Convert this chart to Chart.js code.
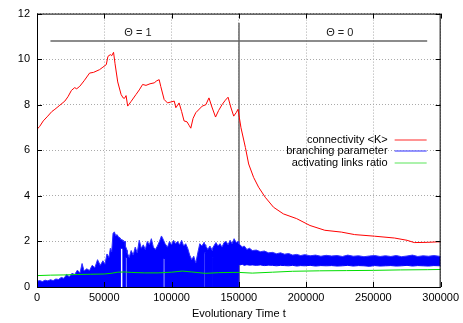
<!DOCTYPE html>
<html>
<head>
<meta charset="utf-8">
<script src="https://cdn.jsdelivr.net/npm/chart.js@4.4.0/dist/chart.umd.min.js"></script>
<style>
  html, body { margin: 0; padding: 0; background: #fff; }
</style>
</head>
<body>
<canvas id="evoChart" width="463" height="323"></canvas>
<script>
// connectivity <K>
const redT = [0, 2000, 4650, 8000, 11000, 13300, 17000, 20700, 23000, 25600, 28000, 29500, 31800, 35000, 39100, 42000, 46500, 49000, 51500, 52700,
  54500, 55500, 56900, 58000, 60000, 62500, 64000, 65000, 66200, 67400, 70000, 73600, 76000, 78500, 81000, 84000, 87100, 89000, 90800, 92000,
  94500, 97000, 99500, 102000, 103200, 105600, 107500, 109300, 111500, 113000, 114300, 116000, 118000, 122800, 125500, 127800, 130000, 132700, 135000, 137600,
  140000, 142000, 144000, 146200, 148000, 149400, 151600, 154900, 157300, 161000, 164700, 169600, 175800, 183100, 193000, 202900, 213900, 226200, 236100, 250900,
  265700, 275000, 280400, 290000, 297700, 300000];
const redV = [6.92, 7.05, 7.29, 7.5, 7.7, 7.8, 7.98, 8.16, 8.35, 8.63, 8.75, 8.7, 8.81, 9.05, 9.39, 9.42, 9.54, 9.65, 9.76, 10.12,
  10.2, 10.15, 10.3, 9.8, 9.0, 8.45, 8.3, 8.28, 8.4, 7.94, 8.15, 8.45, 8.65, 8.89, 8.85, 8.92, 8.96, 9.05, 9.1, 8.8,
  8.23, 8.08, 8.12, 8.16, 7.87, 8.08, 7.7, 7.29, 7.25, 7.1, 6.97, 7.4, 7.65, 7.94, 8.0, 8.3, 7.9, 7.46, 7.75, 8.01,
  8.2, 8.33, 7.9, 7.5, 7.65, 7.8, 6.99, 6.12, 5.4, 4.81, 4.38, 3.94, 3.5, 3.21, 3.0, 2.7, 2.49, 2.41, 2.3, 2.23,
  2.15, 2.05, 1.95, 1.96, 1.98, 1.98];

// branching parameter: noisy band, kept as upper and lower envelope
const blueT = [0, 2000, 4000, 6000, 8000, 10000, 12000, 14000, 16000, 18000,
  20000, 22000, 24000, 26000, 28000, 30000, 32000, 33500, 35000, 37000,
  39000, 41000, 43000, 45000, 47000, 49000, 50500, 52000, 53500, 54500,
  55500, 56500, 57500, 58500, 59500, 60500, 61900, 62000, 64000, 64100,
  65600, 65700, 67000, 67100, 68500, 70000, 71500, 73000, 74500, 76000,
  77500, 79000, 80500, 82000, 83500, 85000, 86500, 88000, 89500, 91000,
  92500, 93700, 93800, 95200, 95300, 97000, 98500, 100000, 101500, 103000,
  104500, 106000, 107500, 109000, 110500, 112000, 113500, 115000, 116500, 118000,
  119500, 121000, 122500, 124200, 124300, 125300, 125400, 127000, 128500, 130300,
  130400, 130900, 131000, 133000, 134500, 136000, 137500, 139000, 140500, 142000,
  143500, 145000, 146500, 148000, 149500, 149900, 150100, 151000, 152500, 154000,
  156000, 158000, 160000, 163000, 166000, 169000, 172000, 175000, 178000, 181000,
  184000, 187000, 190000, 193000, 196000, 199000, 203000, 207000, 211000, 215000,
  219000, 223000, 227000, 231000, 235000, 239000, 243000, 247000, 251000, 255000,
  259000, 263000, 267000, 271000, 275000, 279000, 283000, 287000, 291000, 295000, 300000];
const blueHi = [0.25, 0.28, 0.24, 0.30, 0.27, 0.32, 0.28, 0.35, 0.33, 0.42,
  0.38, 0.55, 0.45, 0.60, 0.55, 0.74, 0.62, 1.03, 0.70, 0.80,
  0.72, 0.95, 0.85, 1.2, 0.95, 1.15, 1.0, 1.45, 1.3, 1.7,
  1.55, 2.35, 2.42, 2.25, 2.3, 2.2, 2.15, 2.1, 2.05, 2.0,
  2.0, 1.8, 1.6, 1.5, 1.3, 1.6, 1.4, 1.75, 1.5, 2.05,
  1.7, 1.85, 1.65, 2.0, 1.85, 2.12, 1.75, 1.65, 1.8, 2.0,
  2.24, 2.1, 2.1, 1.9, 1.9, 1.75, 2.0, 1.85, 2.05, 1.9,
  2.0, 1.85, 2.05, 1.8, 1.9, 1.7, 1.4, 1.2, 1.35, 1.05,
  1.5, 1.9, 1.8, 1.95, 1.9, 1.85, 1.8, 1.65, 1.8, 1.6,
  1.7, 1.75, 1.75, 1.95, 1.8, 1.9, 1.75, 1.95, 2.0, 1.85,
  2.05, 1.9, 2.12, 1.95, 2.0, 1.9, 1.9, 1.85, 1.75, 1.8,
  1.65, 1.7, 1.6, 1.62, 1.55, 1.58, 1.5, 1.52, 1.46, 1.5,
  1.44, 1.47, 1.4, 1.43, 1.38, 1.42, 1.37, 1.4, 1.35, 1.39,
  1.36, 1.38, 1.34, 1.4, 1.35, 1.37, 1.33, 1.36, 1.38, 1.34,
  1.37, 1.34, 1.38, 1.33, 1.36, 1.4, 1.34, 1.37, 1.35, 1.38, 1.34];
const blueLo = [0, 0, 0, 0, 0, 0, 0, 0, 0, 0,
  0, 0, 0, 0, 0, 0, 0, 0, 0, 0,
  0, 0, 0, 0, 0, 0, 0, 0, 0, 0,
  0, 0, 0, 0, 0, 0, 0, 1.7, 1.7, 0,
  0, 1.3, 1.3, 0, 0, 0, 0, 0, 0, 0,
  0, 0, 0, 0, 0, 0, 0, 0, 0, 0,
  0, 0, 1.25, 1.25, 0, 0, 0, 0, 0, 0,
  0, 0, 0, 0, 0, 0, 0, 0, 0, 0,
  0, 0, 0, 0, 1.5, 1.5, 0, 0, 0, 0,
  1.3, 1.3, 0, 0, 0, 0, 0, 0, 0, 0,
  0, 0, 0, 0, 0, 0, 1.0, 0.97, 1.0, 0.95,
  0.98, 0.96, 0.97, 0.95, 0.97, 0.94, 0.96, 0.95, 0.93, 0.95,
  0.94, 0.93, 0.95, 0.92, 0.94, 0.93, 0.95, 0.92, 0.94, 0.93,
  0.94, 0.92, 0.93, 0.95, 0.92, 0.94, 0.93, 0.91, 0.94, 0.92,
  0.93, 0.94, 0.92, 0.93, 0.95, 0.92, 0.94, 0.93, 0.92, 0.94, 0.93];

// activating links ratio
const greenT = [0, 10000, 20000, 30000, 40000, 50000, 55000, 60000, 65000, 70000, 80000, 90000, 100000, 108000,
  115000, 125000, 135000, 145000, 150000, 160000, 175000, 190000, 210000, 230000, 250000, 270000, 290000, 300000];
const greenV = [0.50, 0.52, 0.53, 0.55, 0.56, 0.57, 0.60, 0.65, 0.66, 0.64, 0.62, 0.62, 0.65, 0.70,
  0.66, 0.60, 0.63, 0.64, 0.64, 0.61, 0.65, 0.69, 0.71, 0.72, 0.73, 0.75, 0.76, 0.77];

const xTicks = [0, 50000, 100000, 150000, 200000, 250000, 300000];
const yTicks = [0, 2, 4, 6, 8, 10, 12];

const legendNames = ['connectivity <K>', 'branching parameter', 'activating links ratio'];
const legendColors = ['#ff7070', '#7070ff', '#90ee90'];

// phase annotation
const switchT = 150000;
const switchTop = 11.6;
const phaseBarX = [10000, 290000];
const phaseBarY = 10.8;
const thetaLabels = ['Θ = 1', 'Θ = 0'];
const thetaX = [75000, 225000];
const thetaY = 11.17;

const FONT = '"Liberation Sans", Arial, sans-serif';

function pts(xs, ys) {
  return xs.map((v, i) => ({ x: v, y: ys[i] }));
}

const gnuplotLook = {
  id: 'gnuplotLook',
  beforeDatasetsDraw(chart) {
    const ctx = chart.ctx, sx = chart.scales.x, sy = chart.scales.y;
    ctx.save();
    ctx.strokeStyle = '#666';
    ctx.lineWidth = 1.5;
    const vx = Math.round(sx.getPixelForValue(switchT));
    ctx.beginPath();
    ctx.moveTo(vx, sy.getPixelForValue(0));
    ctx.lineTo(vx, sy.getPixelForValue(switchTop));
    ctx.stroke();
    const by = Math.round(sy.getPixelForValue(phaseBarY));
    ctx.beginPath();
    ctx.moveTo(sx.getPixelForValue(phaseBarX[0]), by);
    ctx.lineTo(sx.getPixelForValue(phaseBarX[1]), by);
    ctx.stroke();
    ctx.fillStyle = '#222';
    ctx.font = '11px ' + FONT;
    ctx.textAlign = 'center';
    ctx.textBaseline = 'middle';
    thetaLabels.forEach((t, i) => {
      ctx.fillText(t, sx.getPixelForValue(thetaX[i]), sy.getPixelForValue(thetaY));
    });
    ctx.restore();
  },
  afterDraw(chart) {
    const ctx = chart.ctx, a = chart.chartArea, sx = chart.scales.x, sy = chart.scales.y;
    ctx.save();
    // frame
    ctx.strokeStyle = '#000';
    ctx.lineWidth = 1;
    ctx.strokeRect(a.left + 0.5, a.top + 0.5, a.right - a.left - 1, a.bottom - a.top);
    // inward ticks on all four sides
    const tl = 5;
    ctx.beginPath();
    xTicks.forEach(v => {
      const px = Math.round(sx.getPixelForValue(v)) + 0.5;
      ctx.moveTo(px, a.bottom); ctx.lineTo(px, a.bottom - tl);
      ctx.moveTo(px, a.top); ctx.lineTo(px, a.top + tl);
    });
    yTicks.forEach(v => {
      const py = Math.round(sy.getPixelForValue(v)) + 0.5;
      ctx.moveTo(a.left, py); ctx.lineTo(a.left + tl, py);
      ctx.moveTo(a.right, py); ctx.lineTo(a.right - tl, py);
    });
    ctx.stroke();
    // key
    ctx.font = '11px ' + FONT;
    ctx.textAlign = 'right';
    ctx.textBaseline = 'middle';
    legendNames.forEach((name, i) => {
      const ly = a.top + 126.5 + i * 11.2;
      ctx.fillStyle = '#000';
      ctx.fillText(name, a.right - 53, ly);
      ctx.strokeStyle = legendColors[i];
      ctx.lineWidth = 1.5;
      ctx.beginPath();
      ctx.moveTo(a.right - 46, Math.round(ly));
      ctx.lineTo(a.right - 14, Math.round(ly));
      ctx.stroke();
    });
    ctx.restore();
  }
};

const ctx = document.getElementById('evoChart').getContext('2d');
new Chart(ctx, {
  type: 'line',
  data: {
    datasets: [
      {
        label: 'activating links ratio',
        data: pts(greenT, greenV),
        borderColor: '#00dd00',
        borderWidth: 1,
        pointRadius: 0,
        fill: false
      },
      {
        label: 'branching parameter',
        data: pts(blueT, blueHi),
        borderColor: '#3030ff',
        backgroundColor: '#0000ff',
        borderWidth: 1,
        pointRadius: 0,
        fill: '+1'
      },
      {
        label: 'branching lower',
        data: pts(blueT, blueLo),
        borderColor: '#0000ff',
        borderWidth: 1,
        pointRadius: 0,
        fill: false
      },
      {
        label: 'connectivity <K>',
        data: pts(redT, redV),
        borderColor: '#ff0000',
        borderWidth: 1,
        pointRadius: 0,
        fill: false
      }
    ]
  },
  options: {
    responsive: false,
    animation: false,
    layout: { padding: { top: 12, right: 20, left: 0, bottom: 0 } },
    plugins: {
      legend: { display: false },
      tooltip: { enabled: false }
    },
    scales: {
      x: {
        type: 'linear',
        min: 0,
        max: 300000,
        afterFit: s => { s.height = 36; },
        afterBuildTicks: s => { s.ticks = xTicks.map(v => ({ value: v })); },
        ticks: {
          callback: v => String(v),
          color: '#000',
          font: { family: FONT, size: 11 },
          padding: 4,
          maxRotation: 0
        },
        grid: { color: '#aaa', drawTicks: false },
        border: { display: false, dash: [1, 2] },
        title: {
          display: true,
          text: 'Evolutionary Time t',
          color: '#000',
          font: { family: FONT, size: 11 },
          padding: { top: 2, bottom: 2 }
        }
      },
      y: {
        min: 0,
        max: 12,
        afterFit: s => { s.width = 37; },
        afterBuildTicks: s => { s.ticks = yTicks.map(v => ({ value: v })); },
        ticks: {
          color: '#000',
          font: { family: FONT, size: 11 },
          padding: 7
        },
        grid: { color: '#aaa', drawTicks: false },
        border: { display: false, dash: [1, 2] }
      }
    }
  },
  plugins: [gnuplotLook]
});
</script>
</body>
</html>
